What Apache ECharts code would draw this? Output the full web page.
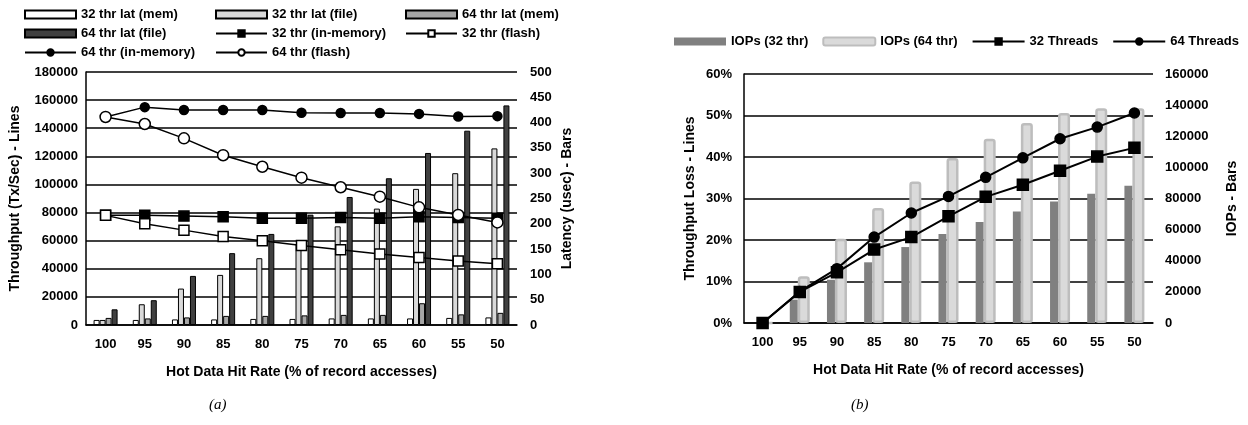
<!DOCTYPE html>
<html>
<head>
<meta charset="UTF-8">
<title></title>
<script src="https://cdn.jsdelivr.net/npm/echarts@6/dist/echarts.min.js"></script>
<style>
  html, body { margin: 0; padding: 0; background: #fff; }
</style>
</head>
<body>
<div id="main" style="width:1248px;height:425px;"></div>
<script>
// hot data hit rate categories (shared by both panels)
var hitRates = ['100', '95', '90', '85', '80', '75', '70', '65', '60', '55', '50'];

// panel (a): latency bars (usec, right axis)
var lat32Mem  = [10, 10, 11, 11, 12, 12, 13, 13, 13, 14, 15];
var lat32File = [10, 41, 72, 99, 132, 160, 195, 230, 269, 300, 349];
var lat64Mem  = [14, 13, 15, 18, 18, 19, 20, 20, 43, 21, 24];
var lat64File = [31, 49, 97, 142, 180, 218, 253, 290, 340, 384, 434];

// panel (a): throughput lines (Tx/Sec, left axis)
var thr32Mem   = [78000, 78000, 77500, 77000, 76000, 76000, 76500, 76000, 77000, 76500, 76000];
var thr32Flash = [78000, 72000, 67500, 63000, 60000, 56500, 53500, 50500, 48000, 45500, 43500];
var thr64Mem   = [148000, 155000, 153000, 153000, 153000, 151000, 150800, 150800, 150200, 148300, 148600];
var thr64Flash = [148000, 143000, 132800, 120800, 112600, 104800, 98000, 91300, 83700, 78300, 73000];

// panel (b): IOPs bars (right axis)
var iops32 = [0, 15000, 27800, 39000, 48800, 57200, 64900, 71700, 78100, 83100, 88200];
var iops64 = [0, 30000, 54200, 73900, 91000, 106000, 118400, 128500, 135000, 138000, 138000];

// panel (b): throughput loss lines (%, left axis)
var loss32 = [0, 7.5, 12.2, 17.7, 20.7, 25.7, 30.4, 33.3, 36.7, 40.1, 42.2];
var loss64 = [0, 7.6, 13.1, 20.7, 26.5, 30.5, 35.1, 39.8, 44.4, 47.2, 50.6];

var FONT = '"Liberation Sans", Arial, sans-serif';
var lbl = { color: '#000', fontFamily: FONT, fontWeight: 'bold', fontSize: 13 };
var nameStyle = { color: '#000', fontFamily: FONT, fontWeight: 'bold', fontSize: 14 };
var plain = function (v) { return String(v); };

function legendCol(left, names) {
  return {
    orient: 'vertical', left: left, top: 3, itemGap: 6,
    itemWidth: 51, itemHeight: 8,
    textStyle: { color: '#000', fontFamily: FONT, fontWeight: 'bold', fontSize: 13 },
    data: names.map(function (n) {
      return n.indexOf('lat') > -1 ? { name: n, icon: 'rect' } : { name: n };
    })
  };
}

function latBar(name, data, color) {
  return {
    name: name, type: 'bar', xAxisIndex: 0, yAxisIndex: 1, data: data,
    barWidth: 6, barGap: '0%',
    itemStyle: { color: color, borderColor: '#000', borderWidth: 1 }
  };
}

function thrLine(name, data, symbol, open, size, xi, yi, w) {
  return {
    name: name, type: 'line', xAxisIndex: xi, yAxisIndex: yi, data: data,
    symbol: symbol, symbolSize: size, showSymbol: true,
    lineStyle: { color: '#000', width: w, type: 'solid' },
    itemStyle: { color: open ? '#fff' : '#000', borderColor: '#000', borderWidth: 1.5 },
    z: 5
  };
}

var myChart = echarts.init(document.getElementById('main'));

myChart.setOption({
  animation: false,
  legend: [
    legendCol(19, ['32 thr lat (mem)', '64 thr lat (file)', '64 thr (in-memory)']),
    legendCol(210, ['32 thr lat (file)', '32 thr (in-memory)', '64 thr (flash)']),
    legendCol(400, ['64 thr lat (mem)', '32 thr (flash)']),
    {
      orient: 'horizontal', left: 669, top: 30, itemGap: 14,
      itemWidth: 52, itemHeight: 8,
      textStyle: { color: '#000', fontFamily: FONT, fontWeight: 'bold', fontSize: 13 },
      data: [{ name: 'IOPs (32 thr)', icon: 'rect' }, { name: 'IOPs (64 thr)', icon: 'roundRect' }, '32 Threads', '64 Threads']
    }
  ],
  grid: [
    { left: 86, top: 72, width: 431, height: 253 },
    { left: 744, top: 74, width: 409, height: 249 }
  ],
  xAxis: [0, 1].map(function (i) {
    return {
      type: 'category', gridIndex: i, data: hitRates,
      axisTick: { show: false },
      axisLine: { lineStyle: { color: '#000', width: 1.5 } },
      axisLabel: Object.assign({ margin: 13 }, lbl),
      name: 'Hot Data Hit Rate (% of record accesses)',
      nameLocation: 'middle', nameGap: 40, nameTextStyle: nameStyle
    };
  }),
  yAxis: [
    {
      type: 'value', gridIndex: 0, min: 0, max: 180000, interval: 20000,
      axisLine: { show: true, lineStyle: { color: '#000', width: 1.5 } },
      splitLine: { lineStyle: { color: '#000', width: 1.5 } },
      axisLabel: Object.assign({ margin: 8, formatter: plain }, lbl),
      name: 'Throughput (Tx/Sec) - Lines', nameLocation: 'middle', nameGap: 64,
      nameTextStyle: nameStyle
    },
    {
      type: 'value', gridIndex: 0, position: 'right', min: 0, max: 500, interval: 50,
      axisLine: { show: false }, splitLine: { show: false },
      axisLabel: Object.assign({ margin: 13, formatter: plain }, lbl),
      name: 'Latency (usec) - Bars', nameLocation: 'middle', nameGap: 43,
      nameTextStyle: nameStyle
    },
    {
      type: 'value', gridIndex: 1, min: 0, max: 60, interval: 10,
      axisLine: { show: true, lineStyle: { color: '#000', width: 1.5 } },
      splitLine: { lineStyle: { color: '#000', width: 1.5 } },
      axisLabel: Object.assign({ margin: 12, formatter: '{value}%' }, lbl),
      name: 'Throughput Loss - Lines', nameLocation: 'middle', nameGap: 47,
      nameTextStyle: nameStyle
    },
    {
      type: 'value', gridIndex: 1, position: 'right', min: 0, max: 160000, interval: 20000,
      axisLine: { show: false }, splitLine: { show: false },
      axisLabel: Object.assign({ margin: 12, formatter: plain }, lbl),
      name: 'IOPs - Bars', nameLocation: 'middle', nameGap: 72,
      nameTextStyle: nameStyle
    }
  ],
  series: [
    latBar('32 thr lat (mem)', lat32Mem, '#ffffff'),
    latBar('32 thr lat (file)', lat32File, '#d9d9d9'),
    latBar('64 thr lat (mem)', lat64Mem, '#a6a6a6'),
    latBar('64 thr lat (file)', lat64File, '#404040'),
    thrLine('32 thr (in-memory)', thr32Mem, 'rect', false, 10, 0, 0, 1.5),
    thrLine('32 thr (flash)', thr32Flash, 'rect', true, 10, 0, 0, 1.5),
    thrLine('64 thr (in-memory)', thr64Mem, 'circle', false, 9, 0, 0, 1.5),
    thrLine('64 thr (flash)', thr64Flash, 'circle', true, 11, 0, 0, 1.5),
    {
      name: 'IOPs (32 thr)', type: 'bar', xAxisIndex: 1, yAxisIndex: 3, data: iops32,
      barWidth: 8, barGap: '0%',
      itemStyle: { color: '#808080' }
    },
    {
      name: 'IOPs (64 thr)', type: 'bar', xAxisIndex: 1, yAxisIndex: 3, data: iops64,
      barWidth: 12, barGap: '0%',
      itemStyle: { color: '#dadada', borderColor: '#bdbdbd', borderWidth: 2.5, borderRadius: 2 }
    },
    thrLine('32 Threads', loss32, 'rect', false, 11, 1, 2, 2),
    thrLine('64 Threads', loss64, 'circle', false, 10, 1, 2, 2)
  ],
  graphic: [
    { type: 'text', left: 209, top: 398, style: { text: '(a)', fill: '#000', font: 'italic 15px "Liberation Serif", serif' } },
    { type: 'text', left: 851, top: 398, style: { text: '(b)', fill: '#000', font: 'italic 15px "Liberation Serif", serif' } }
  ]
});
</script>
</body>
</html>
